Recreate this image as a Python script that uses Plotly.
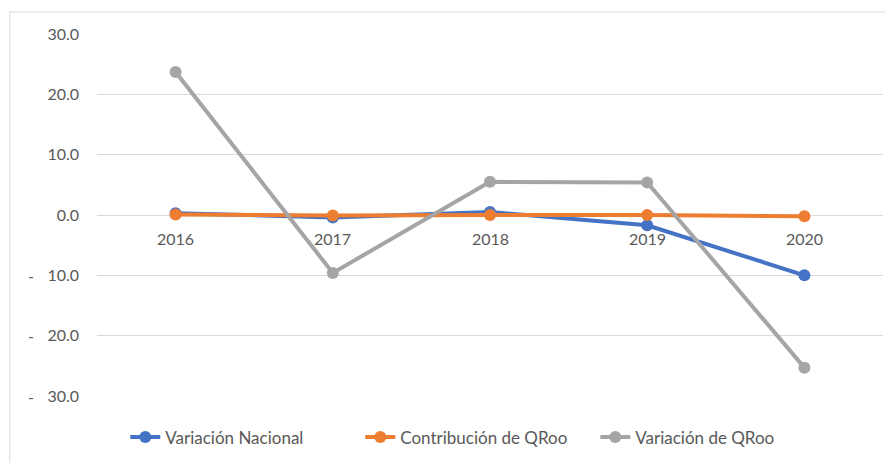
import plotly.graph_objects as go

years = ["2016", "2017", "2018", "2019", "2020"]
variacion_nacional = [0.3, -0.4, 0.5, -1.7, -10.0]
contribucion_qroo = [0.1, -0.1, 0.0, 0.0, -0.2]
variacion_qroo = [23.7, -9.6, 5.5, 5.4, -25.3]

y_ticks = [30, 20, 10, 0, -10, -20, -30]
y_ticktext = ["30.0", "20.0", "10.0", "0.0", "10.0", "20.0", "30.0"]

series = [
    ("Variación Nacional", variacion_nacional, "#4472C4"),
    ("Contribución de QRoo", contribucion_qroo, "#ED7D31"),
    ("Variación de QRoo", variacion_qroo, "#A5A5A5"),
]

font = "Lato, 'Open Sans', sans-serif"
text_color = "#595959"

fig = go.Figure()
for name, vals, color in series:
    fig.add_trace(go.Scatter(
        x=years, y=vals, name=name, mode="lines+markers",
        line=dict(color=color, width=4),
        marker=dict(color=color, size=12),
    ))

# category labels sit just under the zero line
for i, yr in enumerate(years):
    fig.add_annotation(x=i, y=0, text=yr, showarrow=False, yanchor="top",
                       yshift=-12, font=dict(family=font, size=16, color=text_color))

# accounting style minus signs on negative ticks
for v in y_ticks:
    if v < 0:
        fig.add_annotation(x=-0.09, xref="paper", y=v, yref="y", text="-",
                           showarrow=False, xanchor="left",
                           font=dict(family=font, size=16, color=text_color))

# outer chart border
fig.add_shape(type="rect", xref="paper", yref="paper",
              x0=-0.111, x1=1.05, y0=-0.2, y1=1.061,
              line=dict(color="#D9D9D9", width=1))

fig.update_layout(
    width=885, height=455,
    margin=dict(l=89, r=10, t=26, b=67, autoexpand=False),
    paper_bgcolor="white", plot_bgcolor="white",
    font=dict(family=font, size=16, color=text_color),
    showlegend=True,
    legend=dict(orientation="h", x=0.036, xanchor="left",
                yref="container", y=0.056, yanchor="middle",
                entrywidth=190, entrywidthmode="pixels",
                font=dict(family=font, size=17, color=text_color),
                traceorder="normal"),
)
fig.update_xaxes(range=[-0.5, 4.5], showticklabels=False, showgrid=False,
                 zeroline=False, showline=False, type="category")
fig.update_yaxes(range=[-30, 30], tickvals=y_ticks, ticktext=y_ticktext,
                 showgrid=True, gridcolor="#D9D9D9", gridwidth=1,
                 zeroline=True, zerolinecolor="#D9D9D9", zerolinewidth=1,
                 ticks="", ticklabelstandoff=17, automargin=False,
                 tickfont=dict(family=font, size=16, color=text_color))

fig.write_html("out.html")
